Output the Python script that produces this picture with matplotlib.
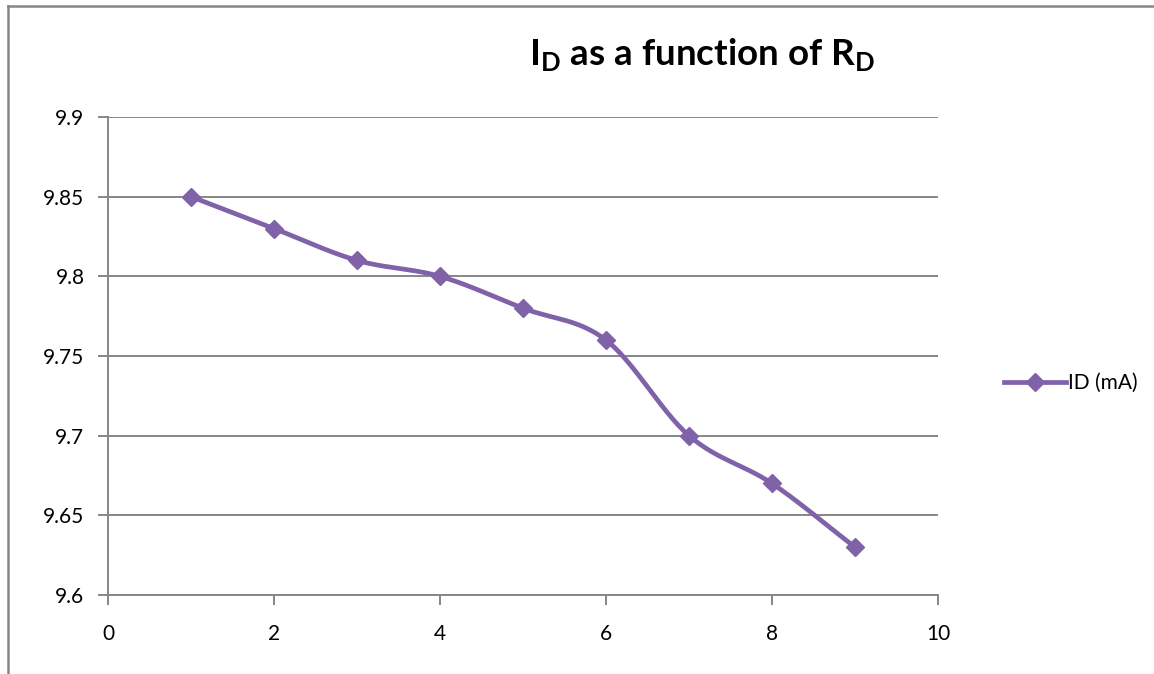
import numpy as np
import matplotlib
matplotlib.use("Agg")
import matplotlib.pyplot as plt
from matplotlib.lines import Line2D

# data
rd = [1, 2, 3, 4, 5, 6, 7, 8, 9]
id_ma = [9.85, 9.83, 9.81, 9.80, 9.78, 9.76, 9.70, 9.67, 9.63]
series_name = "ID (mA)"
xticks = [0, 2, 4, 6, 8, 10]
yticks = [9.6, 9.65, 9.7, 9.75, 9.8, 9.85, 9.9]

purple = "#7F62A8"
grey = "#868686"

plt.rcParams['font.family'] = ['Lato', 'DejaVu Sans']
plt.rcParams['mathtext.fontset'] = 'custom'
plt.rcParams['mathtext.bf'] = 'Lato:bold'
plt.rcParams['mathtext.rm'] = 'Lato'


def smooth(x, y, n=30):
    # Catmull-Rom style smoothing like Excel's smoothed line
    x = np.asarray(x, float)
    y = np.asarray(y, float)
    px = np.concatenate([[2 * x[0] - x[1]], x, [2 * x[-1] - x[-2]]])
    py = np.concatenate([[2 * y[0] - y[1]], y, [2 * y[-1] - y[-2]]])
    xs, ys = [], []
    t = np.linspace(0, 1, n)
    for i in range(1, len(px) - 2):
        for arr, out in ((px, xs), (py, ys)):
            p0, p1, p2, p3 = arr[i - 1], arr[i], arr[i + 1], arr[i + 2]
            out.extend(0.5 * ((2 * p1) + (-p0 + p2) * t
                              + (2 * p0 - 5 * p1 + 4 * p2 - p3) * t ** 2
                              + (-p0 + 3 * p1 - 3 * p2 + p3) * t ** 3))
    return xs, ys


fig = plt.figure(figsize=(11.54, 6.74), dpi=100)
ax = fig.add_axes([108 / 1154, 1 - 595 / 674, 830 / 1154, 478 / 674])

sx, sy = smooth(rd, id_ma)
ax.plot(sx, sy, color=purple, linewidth=3.4, solid_capstyle='round', zorder=3)
ax.plot(rd, id_ma, linestyle='none', marker='D', markersize=9.5,
        color=purple, zorder=4)

ax.set_xlim(0, 10)
ax.set_ylim(9.6, 9.9)
ax.set_xticks(xticks)
ax.set_yticks(yticks)
ax.set_xticklabels([str(v) for v in xticks])
ax.set_yticklabels(["9.6", "9.65", "9.7", "9.75", "9.8", "9.85", "9.9"])
ax.yaxis.grid(True, color=grey, linewidth=1.4)
ax.set_axisbelow(True)
for s in ['top', 'right']:
    ax.spines[s].set_visible(False)
for s in ['left', 'bottom']:
    ax.spines[s].set_color(grey)
    ax.spines[s].set_linewidth(1.4)
ax.tick_params(axis='both', colors=grey, length=7, width=1.4,
               labelcolor='black', labelsize=15)
ax.tick_params(axis='x', direction='out', pad=14)
ax.tick_params(axis='y', direction='out', pad=10)

fig.text(702 / 1154, 1 - 66 / 674,
         r"I$_\mathbf{D}$ as a function of R$_\mathbf{D}$",
         ha='center', va='baseline', fontsize=26.5, fontweight='bold')

handle = Line2D([], [], color=purple, linewidth=3.4, marker='D', markersize=9.5)
fig.legend([handle], [series_name], loc='center left',
           bbox_to_anchor=(985 / 1154, 1 - 383 / 674), frameon=False,
           fontsize=15, handlelength=3.0, handletextpad=0.1)

# chart frame (only top and left edges show)
fig.add_artist(Line2D([8 / 1154, 1], [1 - 6 / 674, 1 - 6 / 674],
                      color=grey, linewidth=1.8, transform=fig.transFigure))
fig.add_artist(Line2D([8 / 1154, 8 / 1154], [0, 1 - 6 / 674],
                      color=grey, linewidth=1.8, transform=fig.transFigure))

# cut-off text from above the chart
fig.text(16 / 1154, 1 + 8 / 674, "D", fontsize=14, style='italic',
         family='Liberation Serif', va='center')
fig.text(270 / 1154, 1 + 8 / 674, "D", fontsize=14, style='italic',
         family='Liberation Serif', va='center')

fig.savefig("out.png", dpi=100)
